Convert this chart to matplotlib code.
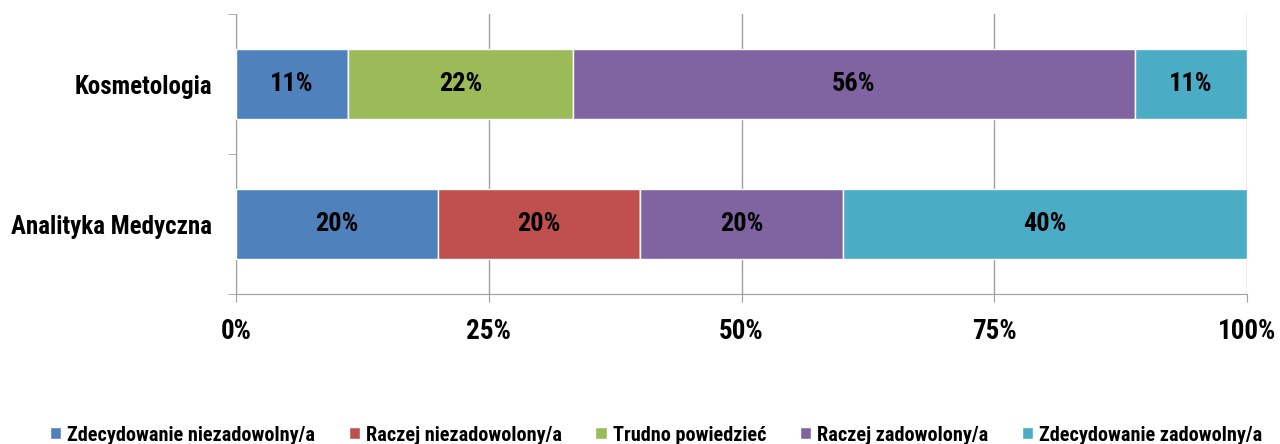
import numpy as np
import matplotlib.pyplot as plt
from matplotlib import font_manager

categories = ["Analityka Medyczna", "Kosmetologia"]
series = ["Zdecydowanie niezadowolny/a", "Raczej niezadowolony/a", "Trudno powiedzieć",
          "Raczej zadowolony/a", "Zdecydowanie zadowolny/a"]
# percent per series, order matches categories
values = [
    [20.0, 11.1],
    [20.0, 0.0],
    [0.0, 22.2],
    [20.0, 55.6],
    [40.0, 11.1],
]
colors = ["#4F81BD", "#C0504D", "#9BBB59", "#8064A2", "#4BACC6"]

# look for a narrow bold face, fall back to DejaVu Sans
fam, stretch = "DejaVu Sans", "normal"
narrow = [f for f in font_manager.fontManager.ttflist
          if str(f.stretch) in ("condensed", "semi-condensed", "extra-condensed")
          or "Narrow" in f.name or "Condensed" in f.name]
if narrow:
    prefer = ["Liberation Sans Narrow", "Roboto Condensed", "Open Sans Condensed",
              "Noto Sans", "DejaVu Sans"]
    narrow.sort(key=lambda f: prefer.index(f.name) if f.name in prefer else 99)
    fam, stretch = narrow[0].name, str(narrow[0].stretch)
plt.rcParams['font.family'] = [fam, 'DejaVu Sans']
plt.rcParams['font.stretch'] = stretch
plt.rcParams['font.weight'] = 'bold'

fig = plt.figure(figsize=(12.8, 4.44), dpi=100)
ax = fig.add_axes([236/1280, 1 - 294/444, 1011/1280, 280/444])

y = np.arange(len(categories))
left = np.zeros(len(categories))
for name, vals, c in zip(series, values, colors):
    vals = np.array(vals)
    bars = ax.barh(y, vals, left=left, height=0.5, color=c, edgecolor='white',
                   linewidth=1, label=name, zorder=3)
    for b, v in zip(bars, vals):
        if v > 0:
            ax.text(b.get_x() + b.get_width() / 2, b.get_y() + b.get_height() / 2,
                    f"{v:.0f}%", ha='center', va='center', fontsize=19,
                    fontweight='bold', zorder=4)
    left += vals

ax.set_xlim(0, 100)
ax.set_ylim(-0.5, 1.5)
ax.set_xticks([0, 25, 50, 75, 100])
ax.set_xticklabels(["0%", "25%", "50%", "75%", "100%"], fontsize=19.5, fontweight='bold')
ax.set_yticks(y)
ax.set_yticklabels(categories, fontsize=18, fontweight='bold')
ax.set_yticks([-0.5, 0.5, 1.5], minor=True)
ax.tick_params(axis='y', which='major', length=0, pad=17)
ax.tick_params(axis='y', which='minor', length=6, color='#A0A0A0', direction='out')
ax.tick_params(axis='x', length=6, color='#A0A0A0', pad=11)
ax.grid(axis='x', color='#A0A0A0', linewidth=1, zorder=0)
for s in ['top', 'right']:
    ax.spines[s].set_visible(False)
for s in ['left', 'bottom']:
    ax.spines[s].set_color('#A0A0A0')

leg = fig.legend(loc='center', bbox_to_anchor=(656/1280, 1 - 435/444), ncol=5, frameon=False,
                 handlelength=0.55, handleheight=0.55, handletextpad=0.3,
                 columnspacing=1.65, prop={'weight': 'bold', 'size': 14.6})

fig.savefig("out.png", dpi=100)
